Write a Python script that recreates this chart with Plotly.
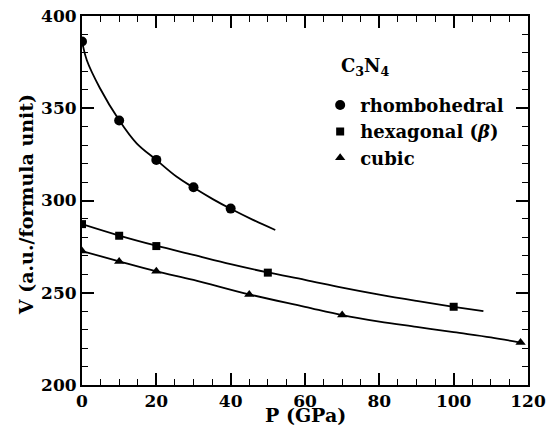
import plotly.graph_objects as go

# Data points
p_rh = [0, 10, 20, 30, 40]
v_rh = [386.2, 343.4, 322.0, 307.2, 295.6]
p_hex = [0, 10, 20, 50, 100]
v_hex = [287.2, 280.9, 275.3, 260.9, 242.4]
p_cub = [0, 10, 20, 45, 70, 118]
v_cub = [272.6, 267.0, 261.6, 249.1, 237.9, 223.0]

# Fitted curves
pf_rh = [0, 1.3, 4.8, 10, 14.7, 20, 25.4, 30, 35.3, 40, 46, 52]
vf_rh = [386.5, 376, 361, 343.5, 331, 322, 313, 307, 300.6, 295.5, 289.5, 284]
pf_hex = [0, 10, 20, 30, 40, 50, 60, 70, 80, 90, 100, 108]
vf_hex = [287.2, 281, 275.5, 270.5, 265.5, 261, 257, 252.8, 249, 245.6, 242.4, 240]
pf_cub = [0, 10, 20, 30, 45, 60, 70, 80, 90, 100, 110, 118]
vf_cub = [272.6, 267, 261.6, 257, 249.1, 242.4, 237.9, 234.4, 231.5, 228.6, 225.8, 223]

x_ticks = [0, 20, 40, 60, 80, 100, 120]
y_ticks = [200, 250, 300, 350, 400]

FONT = "DejaVu Serif"
BLACK = "black"

fig = go.Figure()
for pf, vf in [(pf_rh, vf_rh), (pf_hex, vf_hex), (pf_cub, vf_cub)]:
    fig.add_trace(go.Scatter(x=pf, y=vf, mode="lines", line=dict(color=BLACK, width=1.8, shape="spline"),
                             showlegend=False, hoverinfo="skip"))

fig.add_trace(go.Scatter(x=p_rh, y=v_rh, mode="markers", name="rhombohedral",
                         marker=dict(symbol="circle", size=10, color=BLACK)))
fig.add_trace(go.Scatter(x=p_hex, y=v_hex, mode="markers", name="hexagonal (<i>β</i>)",
                         marker=dict(symbol="square", size=8, color=BLACK)))
fig.add_trace(go.Scatter(x=p_cub, y=v_cub, mode="markers", name="cubic",
                         marker=dict(symbol="triangle-up", size=9, color=BLACK)))

axis_common = dict(
    showgrid=False, zeroline=False, showline=True, linecolor=BLACK, linewidth=2,
    mirror="ticks", ticks="inside", ticklen=12, tickwidth=1.6, tickcolor=BLACK,
    automargin=False,
    tickfont=dict(family=FONT, size=17, color=BLACK, weight="bold"),
)

fig.update_layout(
    width=547, height=427,
    margin=dict(l=82, r=19, t=16, b=42),
    paper_bgcolor="white", plot_bgcolor="white",
    font=dict(family=FONT, color=BLACK, weight="bold"),
    xaxis=dict(range=[0, 120], tickvals=x_ticks, ticktext=[str(v) for v in x_ticks],
               minor=dict(dtick=5, ticks="inside", ticklen=6, tickwidth=1.4, tickcolor=BLACK),
               **axis_common),
    yaxis=dict(range=[200, 400], tickvals=y_ticks, ticktext=[str(v) for v in y_ticks],
               minor=dict(dtick=10, ticks="inside", ticklen=6, tickwidth=1.4, tickcolor=BLACK),
               **axis_common),
    legend=dict(x=0.534, y=0.808, xanchor="left", yanchor="top", bgcolor="rgba(0,0,0,0)",
                font=dict(family=FONT, size=18, color=BLACK, weight="bold"),
                itemwidth=30, tracegroupgap=0),
    annotations=[
        dict(text="C<sub>3</sub>N<sub>4</sub>", xref="paper", yref="paper",
             x=(339 - 82) / 446, y=(385 - 67) / 369, xanchor="left", yanchor="middle",
             showarrow=False, font=dict(family=FONT, size=18, color=BLACK, weight="bold")),
        dict(text="P (GPa)", xref="paper", yref="paper", x=0.5, y=-0.082, xanchor="center", yanchor="middle",
             showarrow=False, font=dict(family=FONT, size=19, color=BLACK, weight="bold")),
        dict(text="V (a.u./formula unit)", xref="paper", yref="paper", x=-0.125, y=0.488,
             xanchor="center", yanchor="middle", textangle=-90,
             showarrow=False, font=dict(family=FONT, size=19, color=BLACK, weight="bold")),
    ],
)

# remove the browser's default page margin so the figure fills the window exactly
fig.write_html("out.html", config={"displayModeBar": False},
               post_script="document.body.style.margin='0px';")
